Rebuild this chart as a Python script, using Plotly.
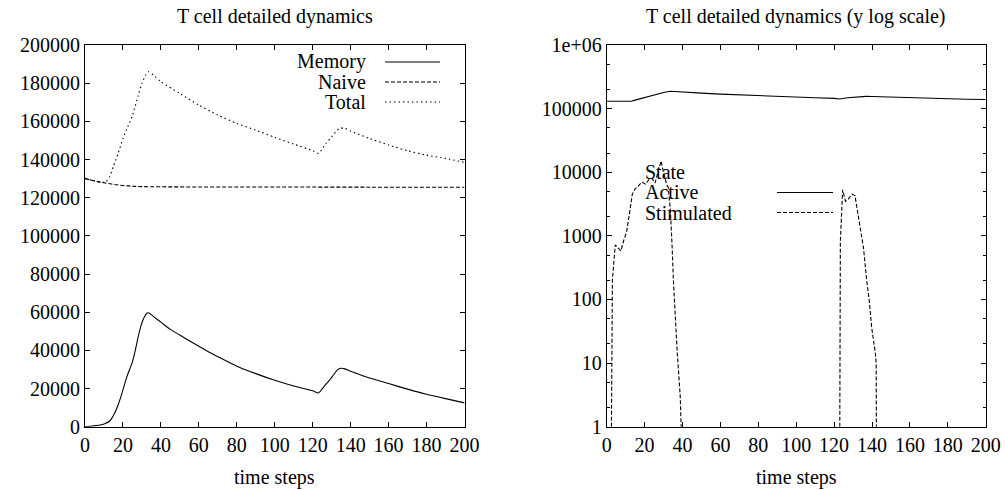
import plotly.graph_objects as go

# ---------------- data ----------------
t_memory = [0, 4, 8, 11, 13, 14.5, 16, 17.5, 19, 20.5, 22, 23.5, 25, 26.5, 28, 29.5, 31, 32.5,
            33.5, 35, 37, 40, 45, 50, 55, 60, 65, 70, 80, 90, 100, 110, 120, 123, 125, 127,
            129, 131, 133, 135, 137, 140, 145, 150, 160, 170, 180, 190, 200]
memory = [0, 400, 900, 1800, 3000, 5000, 8000, 11500, 16000, 21000, 26000, 30000, 34000,
          40000, 47000, 53000, 57000, 59300, 59700, 58700, 57000, 54800, 51000, 48000, 45000,
          42100, 39300, 36700, 31700, 27800, 24300, 21300, 18800, 17700, 19800, 22300, 24500,
          27200, 29800, 30600, 30300, 29000, 27200, 25500, 22600, 19700, 17000, 14700, 12500]

t_naive = [0, 5, 10, 15, 20, 25, 30, 40, 60, 100, 150, 200]
naive = [130000, 128800, 127800, 127000, 126400, 126000, 125800, 125700, 125600, 125600,
         125500, 125500]

t_total = [0, 5, 8, 11, 13, 15, 17.5, 20, 22.5, 25, 28, 30, 32, 33.5, 36, 40, 50, 60, 70, 80,
           90, 100, 110, 120, 123, 127, 130, 134, 137, 140, 150, 160, 170, 180, 190, 200]
total = [130100, 128800, 128100, 128300, 131000, 136500, 143300, 151000, 157000, 163000,
         173500, 179900, 184300, 186000, 184300, 180800, 174600, 168500, 163300, 158900,
         155400, 151600, 148100, 144600, 143200, 148400, 151900, 156300, 156300, 154900,
         151000, 147600, 144600, 142300, 140600, 138500]

t_active = [0, 5, 8, 11, 13, 15, 17.5, 20, 22.5, 25, 28, 30, 32, 34, 36, 40, 50, 60, 70, 80,
            90, 100, 110, 120, 123, 127, 130, 134, 137, 140, 150, 160, 170, 180, 190, 200]
active = [130600, 129500, 129000, 129000, 130500, 136000, 143000, 150000, 156000, 162000,
          172000, 179000, 184000, 188000, 186000, 182000, 175000, 169000, 164000, 159000,
          155500, 152000, 148500, 145000, 141500, 148000, 151500, 155500, 156000, 155000,
          151500, 148000, 145000, 142500, 140500, 139000]

t_stimulated = [2.5, 3.0, 4.5, 6.0, 7.5, 9.0, 10.5, 12.0, 13.5, 15.0, 16.5, 18.5, 20.5, 22.5,
                24.0, 25.5, 28.7, 30.0, 31.7, 32.5, 33.6, 34.5, 35.2, 37.2, 38.8, 39.3,
                80.0,
                123.0, 123.3, 124.5, 126.0, 127.5, 129.5, 131.0, 132.5, 134.0, 135.5, 137.2,
                138.5, 139.8, 141.0, 141.8, 142.2, 142.3]
stimulated = [1, 200, 720, 650, 580, 850, 1150, 2200, 4500, 5500, 6000, 7000, 6500, 7800,
              8000, 6800, 15000, 9800, 6300, 5800, 2500, 700, 200, 15, 3, 1,
              None,
              1, 800, 5300, 3500, 3800, 4500, 4300, 2300, 1100, 650, 200,
              100, 37, 22, 14, 10, 1]

x_ticks = list(range(0, 201, 20))
lin_y_ticks = list(range(0, 200001, 20000))
log_y_ticks = [1, 10, 100, 1000, 10000, 100000, 1000000]
log_y_labels = ["1", "10", "100", "1000", "10000", "100000", "1e+06"]

left_legend = ["Memory", "Naive", "Total"]
right_legend_title = "State"
right_legend = ["Active", "Stimulated"]

# ---------------- figure ----------------
FONT = "Liberation Serif, Times New Roman, serif"
W, H = 1005, 490

def px_x(p):
    return p / W

def px_y(p):
    return 1 - p / H

fig = go.Figure()

line_w = 1.1
fig.add_trace(go.Scatter(x=t_memory, y=memory, mode="lines", xaxis="x", yaxis="y",
                         line=dict(color="black", width=line_w, shape="spline", smoothing=0.6),
                         showlegend=False))
fig.add_trace(go.Scatter(x=t_naive, y=naive, mode="lines", xaxis="x", yaxis="y",
                         line=dict(color="black", width=line_w, dash="4px,2px",
                                   shape="spline"),
                         showlegend=False))
fig.add_trace(go.Scatter(x=t_total, y=total, mode="lines", xaxis="x", yaxis="y",
                         line=dict(color="black", width=line_w, dash="1.5px,3px",
                                   shape="spline", smoothing=0.6),
                         showlegend=False))
fig.add_trace(go.Scatter(x=t_active, y=active, mode="lines", xaxis="x2", yaxis="y2",
                         line=dict(color="black", width=line_w), showlegend=False))
fig.add_trace(go.Scatter(x=t_stimulated, y=stimulated, mode="lines", xaxis="x2", yaxis="y2",
                         connectgaps=False,
                         line=dict(color="black", width=line_w, dash="4px,2px"),
                         showlegend=False))

left_dom = [px_x(85), px_x(464.5)]
right_dom = [px_x(606.7), px_x(985.7)]
y_dom = [px_y(426.7), px_y(45)]

axis_common = dict(showline=True, linecolor="black", linewidth=1, mirror="ticks",
                   ticks="inside", ticklen=5, tickcolor="black", tickwidth=1,
                   showgrid=False, zeroline=False, automargin=False,
                   tickfont=dict(family=FONT, size=20, color="black"))

fig.update_layout(
    width=W, height=H,
    margin=dict(l=0, r=0, t=0, b=0),
    paper_bgcolor="white", plot_bgcolor="white",
    xaxis=dict(domain=left_dom, anchor="y", range=[0, 200], tickvals=x_ticks, **axis_common),
    yaxis=dict(domain=y_dom, anchor="x", range=[0, 200000], tickvals=lin_y_ticks,
               tickformat="d", **axis_common),
    xaxis2=dict(domain=right_dom, anchor="y2", range=[0, 200], tickvals=x_ticks,
                **axis_common),
    yaxis2=dict(domain=y_dom, anchor="x2", type="log", range=[0, 6], tickvals=log_y_ticks,
                ticktext=log_y_labels,
                minor=dict(dtick="D2", ticks="inside", ticklen=3, tickcolor="black"),
                **axis_common),
)

ann_font = dict(family=FONT, size=20, color="black")
left_mid = (left_dom[0] + left_dom[1]) / 2
right_mid = (right_dom[0] + right_dom[1]) / 2
annotations = [
    dict(text="T cell detailed dynamics", x=left_mid, y=px_y(17), xref="paper",
         yref="paper", showarrow=False, font=ann_font, xanchor="center", yanchor="middle"),
    dict(text="T cell detailed dynamics (y log scale)", x=right_mid, y=px_y(17),
         xref="paper", yref="paper", showarrow=False, font=ann_font, xanchor="center",
         yanchor="middle"),
    dict(text="time steps", x=left_mid, y=px_y(477), xref="paper", yref="paper",
         showarrow=False, font=ann_font, xanchor="center", yanchor="middle"),
    dict(text="time steps", x=right_mid, y=px_y(477), xref="paper", yref="paper",
         showarrow=False, font=ann_font, xanchor="center", yanchor="middle"),
]

# left legend (gnuplot style: text right-aligned, sample to the right)
left_rows = [62, 82, 102]
left_dashes = ["solid", "4px,2px", "1.5px,3px"]
shapes = []
for name, yy, dsh in zip(left_legend, left_rows, left_dashes):
    annotations.append(dict(text=name, x=px_x(368), y=px_y(yy), xref="paper", yref="paper",
                            showarrow=False, font=ann_font, xanchor="right",
                            yanchor="middle"))
    shapes.append(dict(type="line", xref="paper", yref="paper", x0=px_x(385), x1=px_x(440),
                       y0=px_y(yy), y1=px_y(yy),
                       line=dict(color="black", width=line_w, dash=dsh)))

# right legend
annotations.append(dict(text=right_legend_title, x=px_x(642.7), y=px_y(172), xref="paper",
                        yref="paper", showarrow=False, font=ann_font, xanchor="left",
                        yanchor="middle"))
right_rows = [192.5, 212.5]
right_dashes = ["solid", "4px,2px"]
for name, yy, dsh in zip(right_legend, right_rows, right_dashes):
    annotations.append(dict(text=name, x=px_x(642.7), y=px_y(yy), xref="paper", yref="paper",
                            showarrow=False, font=ann_font, xanchor="left",
                            yanchor="middle"))
    shapes.append(dict(type="line", xref="paper", yref="paper", x0=px_x(777), x1=px_x(833),
                       y0=px_y(yy), y1=px_y(yy),
                       line=dict(color="black", width=line_w, dash=dsh)))

fig.update_layout(annotations=annotations, shapes=shapes)

fig.write_html("out.html")
